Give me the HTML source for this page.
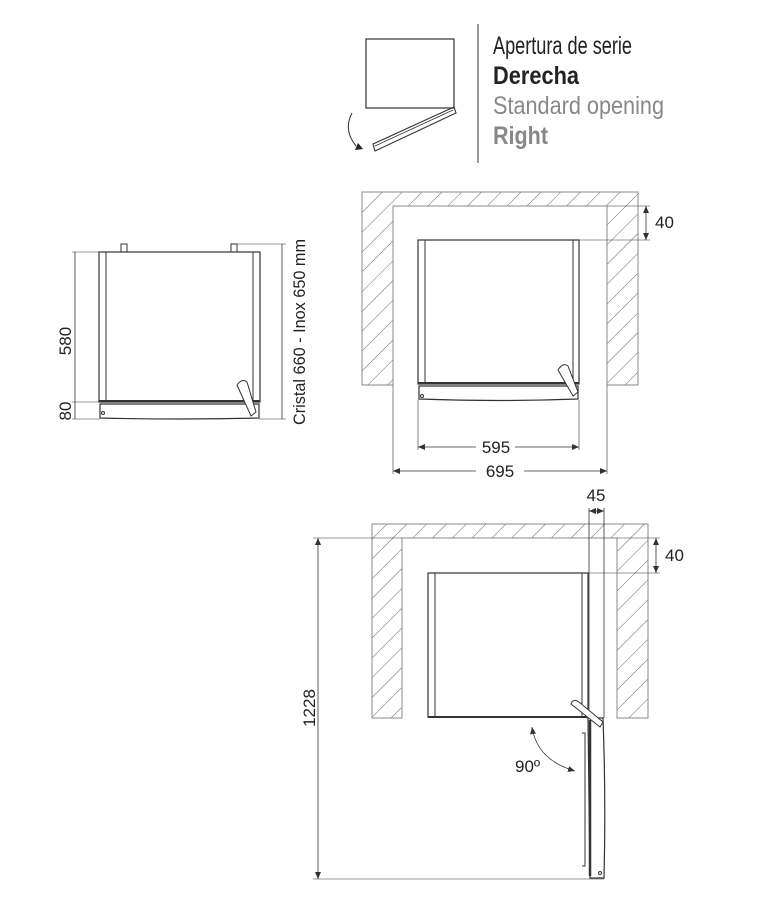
<!DOCTYPE html>
<html><head><meta charset="utf-8"><style>
html,body{margin:0;padding:0;background:#fff;}
svg{display:block;}
text{font-family:"Liberation Sans",sans-serif;}
</style></head><body>
<svg width="771" height="898" viewBox="0 0 771 898" xmlns="http://www.w3.org/2000/svg">
<defs>
<pattern id="h" patternUnits="userSpaceOnUse" width="14" height="14" patternTransform="rotate(45)">
<line x1="0" y1="0" x2="0" y2="14" stroke="#666" stroke-width="1"/>
</pattern>
<marker id="a" markerWidth="8" markerHeight="8" refX="7" refY="3" orient="auto" markerUnits="userSpaceOnUse"><path d="M0,0 L7,3 L0,6 z" fill="#333"/></marker>
<marker id="as" markerWidth="8" markerHeight="8" refX="0" refY="3" orient="auto" markerUnits="userSpaceOnUse"><path d="M7,0 L0,3 L7,6 z" fill="#333"/></marker>
</defs>

<!-- Header icon -->
<rect x="366" y="39" width="88" height="69" fill="none" stroke="#333" stroke-width="1.2"/>
<polygon points="373,144 454,107 456,113 375,151" fill="none" stroke="#333" stroke-width="1.1"/>
<line x1="375" y1="146" x2="453" y2="110" stroke="#333" stroke-width="0.8"/>
<path d="M352,113 Q343,130 356,146" fill="none" stroke="#333" stroke-width="1"/>
<polygon points="355,150 363,149 358,143" fill="#222"/>
<line x1="478" y1="24" x2="478" y2="163" stroke="#555" stroke-width="1.2"/>
<text x="493" y="54" font-size="25" textLength="139" lengthAdjust="spacingAndGlyphs" fill="#222">Apertura de serie</text>
<text x="493" y="84" font-size="25" font-weight="bold" textLength="86" lengthAdjust="spacingAndGlyphs" fill="#222">Derecha</text>
<text x="493" y="114" font-size="25" textLength="171" lengthAdjust="spacingAndGlyphs" fill="#888">Standard opening</text>
<text x="493" y="144" font-size="25" font-weight="bold" textLength="55" lengthAdjust="spacingAndGlyphs" fill="#888">Right</text>

<!-- Left diagram -->
<g stroke="#333" fill="none" stroke-width="1">
<rect x="121" y="244" width="6" height="8"/>
<rect x="231" y="244" width="6" height="8"/>
<rect x="99" y="252" width="161" height="150" stroke-width="1.2"/>
<line x1="106" y1="252" x2="106" y2="402"/>
<line x1="253" y1="252" x2="253" y2="402"/>
<line x1="99" y1="401" x2="260" y2="401" stroke-width="2"/>
<path d="M100,404 L259,404 L259,418 Q180,420 100,418 Z" stroke-width="1.2"/>
<circle cx="103" cy="413" r="1.5"/>
<path d="M237,385 Q242,378 247,382 L256,412 L251,416 Z" fill="#fff"/>
<line x1="75" y1="252" x2="75" y2="419" stroke-width="0.8"/>
<line x1="72" y1="252" x2="99" y2="252" stroke-width="0.6"/>
<line x1="72" y1="402" x2="99" y2="402" stroke-width="0.6"/>
<line x1="72" y1="419" x2="100" y2="419" stroke-width="0.6"/>
<line x1="282" y1="244" x2="282" y2="419" stroke-width="0.8"/>
<line x1="237" y1="244" x2="286" y2="244" stroke-width="0.6"/>
<line x1="259" y1="419" x2="286" y2="419" stroke-width="0.6"/>
</g>
<text transform="translate(71,341) rotate(-90)" font-size="17" text-anchor="middle" fill="#222">580</text>
<text transform="translate(71,411) rotate(-90)" font-size="17" text-anchor="middle" fill="#222">80</text>
<text transform="translate(305,332) rotate(-90)" font-size="17" text-anchor="middle" textLength="186" lengthAdjust="spacingAndGlyphs" fill="#222">Cristal 660 - Inox 650 mm</text>

<!-- Middle diagram -->
<path d="M362,192 H638 V385 H607 V206 H393 V385 H362 Z" fill="url(#h)" stroke="#888" stroke-width="1"/>
<g stroke="#333" fill="none" stroke-width="1">
<rect x="418" y="240" width="161" height="144" stroke-width="1.2"/>
<line x1="425" y1="240" x2="425" y2="384"/>
<line x1="573" y1="240" x2="573" y2="384"/>
<line x1="418" y1="383" x2="579" y2="383" stroke-width="2"/>
<path d="M419,386 L578,386 L578,399 Q500,402 419,399 Z" stroke-width="1.2"/>
<circle cx="422" cy="396" r="1.5"/>
<path d="M558,370 Q563,362 568,366 L578,392 L573,396 Z" fill="#fff"/>
<line x1="579" y1="240" x2="650" y2="240" stroke-width="0.6"/>
<line x1="607" y1="206" x2="650" y2="206" stroke-width="0.6"/>
<line x1="646" y1="206" x2="646" y2="240" stroke-width="0.8" marker-start="url(#as)" marker-end="url(#a)"/>
<line x1="418" y1="400" x2="418" y2="450" stroke-width="0.6"/>
<line x1="579" y1="400" x2="579" y2="450" stroke-width="0.6"/>
<line x1="393" y1="385" x2="393" y2="474" stroke-width="0.6"/>
<line x1="607" y1="385" x2="607" y2="474" stroke-width="0.6"/>
<line x1="418" y1="447" x2="476" y2="447" stroke-width="0.8" marker-start="url(#as)"/>
<line x1="515" y1="447" x2="579" y2="447" stroke-width="0.8" marker-end="url(#a)"/>
<line x1="393" y1="471" x2="476" y2="471" stroke-width="0.8" marker-start="url(#as)"/>
<line x1="524" y1="471" x2="607" y2="471" stroke-width="0.8" marker-end="url(#a)"/>
</g>
<text x="655" y="228" font-size="17" fill="#222">40</text>
<text x="496" y="453" font-size="17" text-anchor="middle" fill="#222">595</text>
<text x="500" y="477" font-size="17" text-anchor="middle" fill="#222">695</text>

<!-- Bottom diagram -->
<path d="M372,524 H648 V718 H617 V538 H402 V718 H372 Z" fill="url(#h)" stroke="#888" stroke-width="1"/>
<g stroke="#333" fill="none" stroke-width="1">
<rect x="428" y="573" width="160" height="144" stroke-width="1.2"/>
<line x1="435" y1="573" x2="435" y2="717"/>
<line x1="582" y1="573" x2="582" y2="717"/>
<line x1="428" y1="717" x2="588" y2="717" stroke-width="2"/>
<line x1="589" y1="508" x2="589" y2="718" stroke-width="0.8"/>
<line x1="604" y1="508" x2="604" y2="718" stroke-width="0.8"/>
<line x1="589" y1="511" x2="604" y2="511" stroke-width="0.8" marker-start="url(#as)" marker-end="url(#a)"/>
<path d="M588,718 L603,718 Q606,800 604,878 L590,878 Z" stroke-width="1.2"/>
<line x1="590" y1="720" x2="590" y2="876" stroke-width="2.5"/>
<circle cx="600" cy="873" r="1.5"/>
<path d="M582,733 H585 V866 H582" stroke-width="1"/>
<path d="M571,704 Q573,698 579,702 L603,722 L600,727 Z" fill="#fff"/>
<line x1="588" y1="573" x2="660" y2="573" stroke-width="0.6"/>
<line x1="617" y1="538" x2="660" y2="538" stroke-width="0.6"/>
<line x1="656" y1="538" x2="656" y2="573" stroke-width="0.8" marker-start="url(#as)" marker-end="url(#a)"/>
<line x1="313" y1="538" x2="402" y2="538" stroke-width="0.6"/>
<line x1="313" y1="879" x2="604" y2="879" stroke-width="0.6"/>
<line x1="318" y1="538" x2="318" y2="879" stroke-width="0.8" marker-start="url(#as)" marker-end="url(#a)"/>
<path d="M532,727 Q537,760 575,771" stroke-width="0.8" marker-start="url(#as)" marker-end="url(#a)"/>
</g>
<text x="596" y="501" font-size="17" text-anchor="middle" fill="#222">45</text>
<text x="665" y="561" font-size="17" fill="#222">40</text>
<text transform="translate(315,708) rotate(-90)" font-size="17" text-anchor="middle" fill="#222">1228</text>
<text x="515" y="772" font-size="17" fill="#222">90º</text>
</svg>
</body></html>
